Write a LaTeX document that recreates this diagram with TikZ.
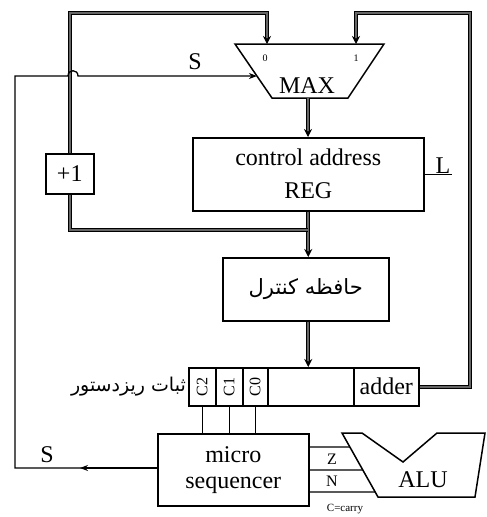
\documentclass[tikz,border=0pt]{standalone}
\usepackage{fontspec}
\setmainfont{Liberation Serif}
\newfontfamily\farsi[Script=Arabic]{DejaVu Sans}
\TeXXeTstate=1
\usetikzlibrary{positioning, arrows.meta, calc}

\begin{document}
\begin{tikzpicture}[x=1pt, y=-1pt,
    every node/.style={font=\fontsize{24}{33}\selectfont},
    box/.style={draw, line width=1.5pt, inner sep=0pt, anchor=north west, align=center},
    bus/.style={line width=1.1pt, double=black!60, double distance=1.6pt},
    busarrow/.style={bus, -{Stealth[length=8pt, width=8pt]}},
    sig/.style={line width=1.3pt},
    small/.style={font=\fontsize{16}{18}\selectfont}
  ]
\useasboundingbox (0,0) rectangle (487,517);

% multiplexer
\coordinate (mtl) at (235,44);
\coordinate (mtr) at (384,44);
\coordinate (mbr) at (348,98);
\coordinate (mbl) at (272,98);
\draw[line width=1.5pt] (mtl) -- (mtr) -- (mbr) -- (mbl) -- cycle;
\coordinate (in0) at (267,44);
\coordinate (in1) at (356,44);
\coordinate (mout) at (308,98);
\node (mlbl) at (307,86) {MAX};
\node[font=\fontsize{10}{11}\selectfont] (i0) at (265,58) {0};
\node[font=\fontsize{10}{11}\selectfont] (i1) at (356,58) {1};

% registers and memory
\node[box, minimum width=231, minimum height=73] (reg) at (192,137)
      {control address\\REG};
\node[box, minimum width=166, minimum height=63] (cmem) at (222,257)
      {\fontsize{21}{24}\farsi\beginR حافظه کنترل\endR};
\node[box, minimum width=48, minimum height=40] (inc) at (45,153) {+1};

\node[box, minimum width=230, minimum height=38] (ureg) at (188,367) {};
\node[box, minimum width=27, minimum height=38] (c2) at (188,367) {};
\node[box, minimum width=27, minimum height=38] (c1) at (215,367) {};
\node[box, minimum width=25, minimum height=38] (c0) at (242,367) {};
\node[box, minimum width=65, minimum height=38] (adder) at (353,367) {adder};
\node[small, rotate=90] (t2) at (c2.center) {C2};
\node[small, rotate=90] (t1) at (c1.center) {C1};
\node[small, rotate=90] (t0) at (c0.center) {C0};
\node[anchor=east, inner sep=2pt] (ulbl) at (ureg.west)
      {\fontsize{19}{22}\farsi\beginR ثبات ریزدستور\endR};

\node[box, minimum width=151, minimum height=72,
      font=\fontsize{24}{26}\selectfont] (seq) at (157,433)
      {micro\\sequencer};

% ALU
\coordinate (atl) at (342,433);
\coordinate (abl) at (378,497);
\draw[line width=1.5pt] (atl) -- (362,433) -- (403,462) -- (437,433) -- (485,433)
      -- (475,497) -- (abl) -- cycle;
\node (alulbl) at (423,480) {ALU};

% buses
\draw[busarrow] (mout) -- (mout |- reg.north);
\draw[busarrow] (reg.south) -- (reg.south |- cmem.north);
\draw[busarrow] (reg.south |- cmem.south) -- (reg.south |- ureg.north);
\draw[bus] (reg.south |- 0,230) -| (inc.south);
\draw[busarrow] (inc.north) |- (in0 |- 0,13) -- (in0);
\draw[busarrow] (adder.east) -| (470,13) -| (in1);

% control lines
\draw[sig] (c2.south) -- (c2.south |- seq.north);
\draw[sig] (c1.south) -- (c1.south |- seq.north);
\draw[sig] (c0.south) -- (c0.south |- seq.north);
\draw[sig] (reg.east) -- ++(27,0) node[above left, inner sep=0.5pt] (lsig) {L};

\coordinate (hop) at (73,76);
\draw[sig, -{Stealth[length=8pt]}] (seq.west |- 0,468) -- (15,468) -- (15,76)
      -- ($(hop)+(-5,0)$) .. controls +(0,-7) and +(0,-7) .. ($(hop)+(5,0)$)
      -- ($(mtl)!0.593!(mbl)$);
\draw[sig, -{Stealth[length=8pt]}] (seq.west |- 0,468) -- (80,468);
\node (s1) at (195,62) {S};
\node (s2) at (47,455) {S};

\draw[sig] (seq.east |- 0,447) -- ($(atl)!0.219!(abl)$);
\draw[sig] (seq.east |- 0,470) -- ($(atl)!0.578!(abl)$);
\draw[sig] (seq.east |- 0,492) -- ($(atl)!0.922!(abl)$);
\node[small] (zf) at (332,459) {Z};
\node[small] (nf) at (332,481) {N};
\node[font=\fontsize{11}{13}\selectfont] (cf) at (345,509) {C=carry};
\end{tikzpicture}
\end{document}
